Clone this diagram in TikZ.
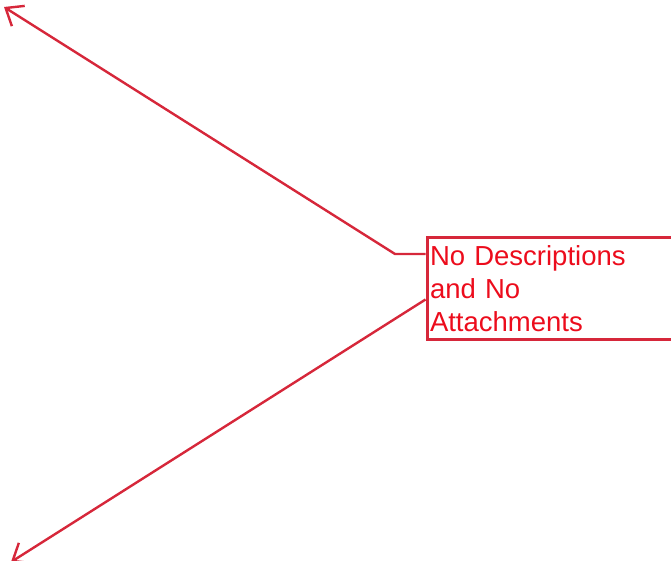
\documentclass[tikz,border=0pt]{standalone}
\usepackage{fontspec}
\setmainfont{Liberation Sans}
\usepackage{tikz}
\usetikzlibrary{arrows.meta}
\definecolor{lnred}{RGB}{214,39,58}
\definecolor{txtred}{RGB}{236,12,28}

\begin{document}
\begin{tikzpicture}[x=1pt,y=1pt,
                    link/.style={draw=lnred,line width=2.4pt,-{Straight Barb[length=15pt,width=24pt]}},
                    notebox/.style={draw=lnred,line width=3pt,text=txtred,anchor=north west,
                      minimum width=250pt,minimum height=102pt,inner xsep=3pt,
                      text width=244pt,align=left,font=\fontsize{27.5pt}{33pt}\selectfont}]

\useasboundingbox (0,0) rectangle (671,560);
\clip (0,0) rectangle (671,560);

\node[notebox] (box) at (425.5,324) {No Descriptions\\and No\\Attachments};

\coordinate (bend) at (395,306);
\coordinate (tipA) at (4,553);
\coordinate (tipB) at (11,-2);

\draw[link] (box.west |- bend) -- (bend) -- (tipA);
\draw[link] ([yshift=-11pt]box.west) -- (tipB);

\end{tikzpicture}
\end{document}
